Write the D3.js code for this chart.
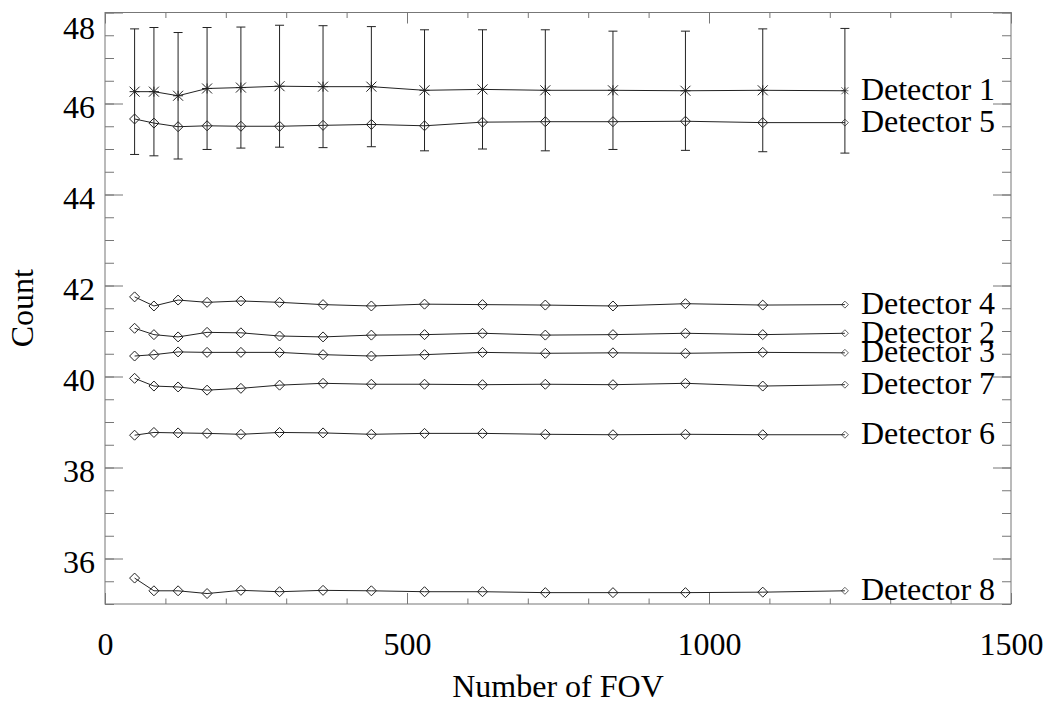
<!DOCTYPE html>
<html>
<head>
<meta charset="utf-8">
<script src="https://cdn.jsdelivr.net/npm/d3@7"></script>
<style>
  body { margin: 0; background: #fff; }
  svg text { font-family: "Liberation Serif", "Times New Roman", Times, Tinos, "Nimbus Roman", "DejaVu Serif", serif !important; }
</style>
</head>
<body>
<div id="chart"></div>
<script>
// number of fields of view (x values, shared by every detector)
const fov = [49, 81, 121, 169, 225, 289, 361, 441, 529, 625, 729, 841, 961, 1089, 1225];

// mean counts per detector
const det1 = [46.26, 46.26, 46.17, 46.33, 46.35, 46.38, 46.37, 46.37, 46.29, 46.31, 46.29, 46.29, 46.28, 46.29, 46.28];
const det5 = [45.66, 45.57, 45.49, 45.51, 45.50, 45.50, 45.52, 45.54, 45.51, 45.59, 45.60, 45.60, 45.61, 45.58, 45.58];
const det4 = [41.75, 41.55, 41.68, 41.63, 41.66, 41.63, 41.58, 41.55, 41.59, 41.58, 41.57, 41.55, 41.60, 41.57, 41.58];
const det2 = [41.06, 40.92, 40.87, 40.97, 40.96, 40.89, 40.87, 40.91, 40.92, 40.95, 40.91, 40.92, 40.95, 40.92, 40.95];
const det3 = [40.45, 40.48, 40.54, 40.53, 40.53, 40.53, 40.48, 40.45, 40.48, 40.53, 40.51, 40.52, 40.51, 40.53, 40.52];
const det7 = [39.96, 39.79, 39.77, 39.70, 39.74, 39.81, 39.85, 39.83, 39.83, 39.82, 39.83, 39.82, 39.85, 39.79, 39.82];
const det6 = [38.71, 38.77, 38.76, 38.75, 38.73, 38.77, 38.76, 38.73, 38.75, 38.75, 38.73, 38.72, 38.73, 38.72, 38.72];
const det8 = [35.57, 35.29, 35.29, 35.23, 35.30, 35.27, 35.30, 35.29, 35.27, 35.27, 35.25, 35.25, 35.25, 35.26, 35.29];

// half width of the error bars on detector 1
const det1Err = [1.38, 1.41, 1.39, 1.34, 1.33, 1.34, 1.34, 1.32, 1.33, 1.31, 1.33, 1.30, 1.31, 1.35, 1.37];

const seriesNames = ["Detector 1", "Detector 5", "Detector 4", "Detector 2", "Detector 3", "Detector 7", "Detector 6", "Detector 8"];
const seriesValues = [det1, det5, det4, det2, det3, det7, det6, det8];
const seriesSymbol = ["asterisk", "diamond", "diamond", "diamond", "diamond", "diamond", "diamond", "diamond"];

const xDomain = [0, 1500];
const yDomain = [35, 48];

const margin = {top: 12.5, right: 35, bottom: 98, left: 105},
  width = 1046 - margin.left - margin.right,
  height = 702 - margin.top - margin.bottom;

const axisColor = "#777",
  lineColor = "#222",
  fontSize = 32;

const svg = d3.select("#chart")
  .append("svg")
  .attr("width", width + margin.left + margin.right)
  .attr("height", height + margin.top + margin.bottom)
    .append("g")
    .attr("transform", `translate(${margin.left}, ${margin.top})`);

const x = d3.scaleLinear().domain(xDomain).range([0, width]);
const y = d3.scaleLinear().domain(yDomain).range([height, 0]);

const series = seriesNames.map((name, i) => ({
  name: name,
  symbol: seriesSymbol[i],
  points: fov.map((f, j) => ({fov: f, v: seriesValues[i][j], err: i === 0 ? det1Err[j] : null}))
}));

// frame
svg.append("rect")
  .attr("width", width)
  .attr("height", height)
  .attr("fill", "none")
  .attr("stroke", axisColor);

// ticks, all pointing inward, minor first then major
function addAxis(axis, transform) {
  const g = svg.append("g")
    .attr("transform", transform)
    .attr("color", axisColor)
    .call(axis);
  g.select(".domain").remove();
  return g;
}

const xMinor = x.ticks(15), xMajor = x.ticks(3);
const yMinor = y.ticks(26), yMajor = y.ticks(7);

addAxis(d3.axisBottom(x).tickValues(xMinor).tickSize(-5.5).tickFormat(""), `translate(0,${height})`);
addAxis(d3.axisTop(x).tickValues(xMinor).tickSize(-5.5).tickFormat(""), "translate(0,0)");
addAxis(d3.axisLeft(y).tickValues(yMinor).tickSize(-9).tickFormat(""), "translate(0,0)");
addAxis(d3.axisRight(y).tickValues(yMinor).tickSize(-9).tickFormat(""), `translate(${width},0)`);

const bottomAxis = addAxis(d3.axisBottom(x).tickValues(xMajor).tickSize(-11).tickFormat(d3.format("d")), `translate(0,${height})`);
addAxis(d3.axisTop(x).tickValues(xMajor).tickSize(-11).tickFormat(""), "translate(0,0)");
const leftAxis = addAxis(d3.axisLeft(y).tickValues(yMajor).tickSize(-18).tickFormat(d3.format("d")), "translate(0,0)");
addAxis(d3.axisRight(y).tickValues(yMajor).tickSize(-18).tickFormat(""), `translate(${width},0)`);

bottomAxis.selectAll("text")
  .attr("y", 51)
  .attr("dy", 0)
  .attr("fill", "#000")
  .attr("font-size", fontSize);

leftAxis.selectAll("text")
  .attr("x", -10)
  .attr("dy", 0)
  // the top label sits lower so it stays inside the page
  .attr("y", d => y(d) < 10 ? 26 : 13.5)
  .attr("fill", "#000")
  .attr("font-size", fontSize);

// axis titles
svg.append("text")
  .attr("x", width / 2)
  .attr("y", 684)
  .attr("text-anchor", "middle")
  .attr("font-size", fontSize)
  .text("Number of FOV");

svg.append("text")
  .attr("transform", `translate(${33 - margin.left}, ${height / 2}) rotate(-90)`)
  .attr("text-anchor", "middle")
  .attr("font-size", fontSize)
  .text("Count");

// error bars on detector 1
const errG = svg.append("g")
  .attr("stroke", lineColor)
  .attr("stroke-width", 1)
  .attr("fill", "none");

errG.selectAll("path")
  .data(series[0].points)
  .join("path")
  .attr("d", d => {
    const cx = x(d.fov), y1 = y(d.v + d.err), y2 = y(d.v - d.err);
    return `M${cx},${y1}V${y2}M${cx - 4.5},${y1}H${cx + 4.5}M${cx - 4.5},${y2}H${cx + 4.5}`;
  });

// lines
const line = d3.line()
  .x(d => x(d.fov))
  .y(d => y(d.v));

svg.append("g")
  .selectAll("path")
  .data(series)
  .join("path")
  .attr("d", d => line(d.points))
  .attr("fill", "none")
  .attr("stroke", lineColor)
  .attr("stroke-width", 1);

// markers
const symbolPath = {
  diamond: "M0,-5L5,0L0,5L-5,0Z",
  asterisk: "M-5,-5L5,5M-5,5L5,-5M0,-5V5M-5,0H5"
};

const markerG = svg.append("g")
  .selectAll("g")
  .data(series)
  .join("g");

markerG.selectAll("path")
  .data(d => d.points.map((p, j) => ({p: p, symbol: d.symbol, last: j === d.points.length - 1})))
  .join("path")
  .attr("d", d => symbolPath[d.symbol])
  .attr("transform", d => `translate(${x(d.p.fov)},${y(d.p.v)}) scale(${d.last ? 0.7 : 1})`)
  .attr("fill", "none")
  .attr("stroke", lineColor)
  .attr("stroke-width", 1);

// series labels at the end of each line
svg.append("g")
  .selectAll("text")
  .data(series)
  .join("text")
  .attr("x", d => x(d.points[d.points.length - 1].fov) + 16)
  .attr("y", d => y(d.points[d.points.length - 1].v) + 9.5)
  .attr("font-size", fontSize)
  .attr("fill", "#000")
  .text(d => d.name);
</script>
</body>
</html>
